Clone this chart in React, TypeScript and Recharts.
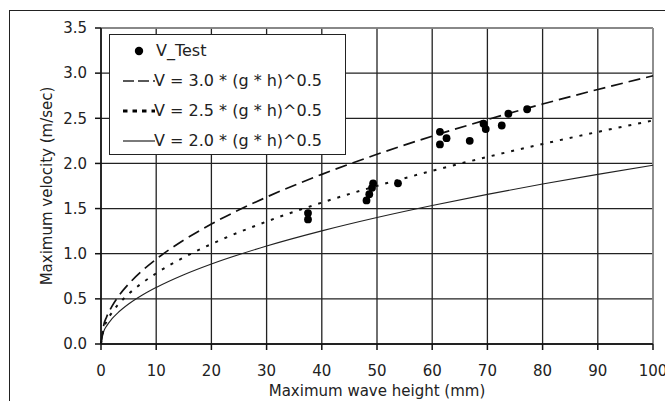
import React from 'react';
import { ComposedChart, Line, Scatter, XAxis, YAxis, CartesianGrid, Legend, ReferenceLine } from 'recharts';

// wave height (mm) sampled along the theoretical curves
const heights = [0, 0.5, 1, 2, 3, 5, 7.5, 10, 15, 20, 30, 40, 50, 60, 70, 80, 90, 100];
const v30 = [0, 0.21, 0.297, 0.42, 0.515, 0.664, 0.814, 0.94, 1.151, 1.329, 1.627, 1.879, 2.101, 2.302, 2.486, 2.658, 2.819, 2.971];
const v25 = [0, 0.175, 0.248, 0.35, 0.429, 0.554, 0.678, 0.783, 0.959, 1.107, 1.356, 1.566, 1.751, 1.918, 2.072, 2.215, 2.349, 2.476];
const v20 = [0, 0.14, 0.198, 0.28, 0.343, 0.443, 0.543, 0.626, 0.767, 0.886, 1.085, 1.253, 1.401, 1.534, 1.657, 1.772, 1.879, 1.981];

// measured test points
const testH = [37.5, 37.5, 48.1, 48.6, 49.1, 49.3, 53.8, 61.4, 62.6, 61.4, 66.8, 69.3, 69.7, 72.6, 73.8, 77.2];
const testV = [1.45, 1.38, 1.59, 1.66, 1.73, 1.78, 1.78, 2.35, 2.28, 2.21, 2.25, 2.44, 2.38, 2.42, 2.55, 2.6];

const xTicks = [0, 10, 20, 30, 40, 50, 60, 70, 80, 90, 100];
const yTicks = [0, 0.5, 1, 1.5, 2, 2.5, 3, 3.5];

const legendLabels = ['V_Test', 'V = 3.0 * (g * h)^0.5', 'V = 2.5 * (g * h)^0.5', 'V = 2.0 * (g * h)^0.5'];

const curveData = heights.map((h, i) => ({ h, v30: v30[i], v25: v25[i], v20: v20[i] }));
const testData = testH.map((h, i) => ({ h, v: testV[i] }));

const FONT = '"DejaVu Sans", Verdana, sans-serif';

const LegendBox = () => {
  const rowTop = [16, 46, 76, 106];
  return (
    <div
      style={{
        position: 'relative',
        width: 235,
        height: 119,
        background: '#fff',
        border: '1.5px solid #222',
        fontFamily: FONT,
        fontSize: 16,
        color: '#222',
      }}
    >
      {legendLabels.map((lab, i) => (
        <div key={i} style={{ position: 'absolute', left: 0, top: rowTop[i] - 12, height: 24, width: 235 }}>
          <svg width={34} height={24} style={{ position: 'absolute', left: 12, top: 0 }}>
            {i === 0 && <circle cx={17} cy={12} r={4.2} fill="#000" />}
            {i === 1 && <line x1={1} y1={12} x2={33} y2={12} stroke="#222" strokeWidth={1.5} strokeDasharray="11 4" />}
            {i === 2 && <line x1={1} y1={12} x2={33} y2={12} stroke="#000" strokeWidth={3} strokeDasharray="4.5 5" />}
            {i === 3 && <line x1={1} y1={12} x2={33} y2={12} stroke="#222" strokeWidth={1.2} />}
          </svg>
          <span style={{ position: 'absolute', left: i === 0 ? 46 : 44, top: 2, lineHeight: '20px', whiteSpace: 'nowrap' }}>{lab}</span>
        </div>
      ))}
    </div>
  );
};

const YLabel = (props: any) => {
  const vb = props.viewBox || { x: 41, y: 28, width: 60, height: 316 };
  const cx = vb.x + 6;
  const cy = vb.y + vb.height / 2;
  return (
    <text x={cx} y={cy} transform={`rotate(-90 ${cx} ${cy})`} textAnchor="middle" dominantBaseline="central"
      fontFamily={FONT} fontSize={15} fill="#222">
      Maximum velocity (m/sec)
    </text>
  );
};

const XLabel = (props: any) => {
  const vb = props.viewBox || { x: 101, y: 344, width: 552, height: 30 };
  const cx = vb.x + vb.width / 2;
  return (
    <text x={cx} y={vb.y + 52} textAnchor="middle" fontFamily={FONT} fontSize={15} fill="#222">
      Maximum wave height (mm)
    </text>
  );
};

const Dot = (props: any) => <circle cx={props.cx} cy={props.cy} r={3.9} fill="#000" />;

export default function App() {
  return (
    <div style={{ position: 'absolute', left: 0, top: 0, width: 665, height: 401, background: '#fff', overflow: 'hidden' }}>
      <div style={{ position: 'absolute', left: 9, top: 10, width: 800, height: 600, borderTop: '1.5px solid #222', borderLeft: '1.5px solid #222' }} />
      <div style={{ position: 'absolute', left: 0, top: 0 }}>
        <ComposedChart width={665} height={401} data={curveData} margin={{ top: 28, right: 12, bottom: 27, left: 41 }}>
          <CartesianGrid stroke="#222" strokeWidth={1.3} />
          <XAxis
            dataKey="h"
            type="number"
            domain={[0, 100]}
            ticks={xTicks}
            interval={0}
            height={30}
            axisLine={{ stroke: '#111', strokeWidth: 1.5 }}
            tickLine={{ stroke: '#111', strokeWidth: 1.5 }}
            tickSize={6}
            tickMargin={15}
            tick={{ fontFamily: FONT, fontSize: 15, fill: '#222' }}
            label={<XLabel />}
          />
          <YAxis
            type="number"
            domain={[0, 3.5]}
            ticks={yTicks}
            interval={0}
            width={60}
            axisLine={{ stroke: '#111', strokeWidth: 1.5 }}
            tickLine={{ stroke: '#111', strokeWidth: 1.5 }}
            tickSize={6}
            tickMargin={8}
            tickFormatter={(v: number) => v.toFixed(1)}
            tick={{ fontFamily: FONT, fontSize: 15, fill: '#222' }}
            label={<YLabel />}
          />
          <ReferenceLine y={3.5} stroke="#999" strokeWidth={1.5} />
          <ReferenceLine x={100} stroke="#999" strokeWidth={1.5} />
          <Line type="monotone" dataKey="v20" stroke="#222" strokeWidth={1.1} dot={false} isAnimationActive={false} legendType="none" />
          <Line type="monotone" dataKey="v25" stroke="#111" strokeWidth={2} strokeDasharray="3 7" dot={false} isAnimationActive={false} legendType="none" />
          <Line type="monotone" dataKey="v30" stroke="#111" strokeWidth={1.7} strokeDasharray="12 6" dot={false} isAnimationActive={false} legendType="none" />
          <Scatter data={testData} dataKey="v" shape={<Dot />} isAnimationActive={false} legendType="none" />
          <Legend
            layout="horizontal"
            verticalAlign="middle"
            align="center"
            content={<LegendBox />}
            wrapperStyle={{ position: 'absolute', left: 109, top: 34, width: 'auto', height: 'auto' }}
          />
        </ComposedChart>
      </div>
    </div>
  );
}
